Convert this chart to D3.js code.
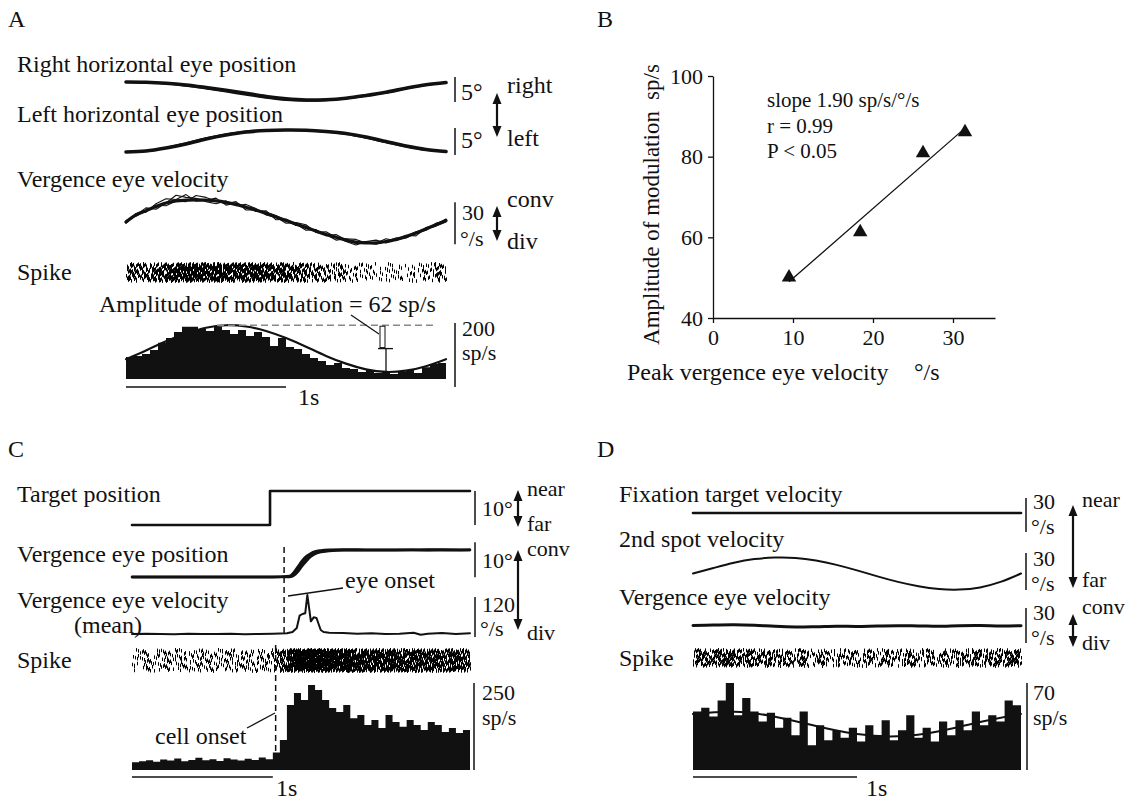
<!DOCTYPE html>
<html><head><meta charset="utf-8">
<script src="https://cdn.jsdelivr.net/npm/d3@7"></script>
<style>
body{margin:0;background:#fff;}
svg text{font-family:"Liberation Serif","Times New Roman",serif;fill:#111;}
</style></head><body>
<svg id="fig" width="1129" height="803" font-family="Liberation Serif"></svg>
<script>
// ================= DATA =================
// Panel A : sinusoidal vergence, 2 s sweep
const eyeStepA = 0.125;                    // s between samples
const rightEyeA  = [1.8,1.75,1.55,1.2,0.7,0.15,-0.45,-1.1,-1.55,-1.8,-1.75,-1.45,-0.9,-0.25,0.55,1.25,1.7];
const rightEyeA2 = [1.75,1.7,1.45,1.0,0.45,-0.15,-0.8,-1.4,-1.85,-2.0,-1.9,-1.55,-1.0,-0.35,0.45,1.15,1.65];
const leftEyeA   = [-2.2,-2.0,-1.4,-0.6,0.4,1.2,1.8,2.1,2.2,2.15,1.9,1.5,0.8,-0.1,-1.0,-1.7,-2.1];
const leftEyeA2  = [-2.15,-1.95,-1.3,-0.4,0.6,1.4,1.95,2.2,2.25,2.1,1.8,1.35,0.6,-0.3,-1.15,-1.8,-2.15];
const vergStepA = 0.0625;
const vergVelA  = [-1,4,7,10,12.5,14,14.5,14.8,14.5,14,13,11.5,9.5,7.5,5,2.5,0,-2.5,-5,-7.5,-10,-12,-14,-15.5,-16,-16,-15,-13.5,-11.5,-9,-6,-3,0];
const vergNoiseA1 = [0,1,-1,2,3,1,4,-1,0,2,-2,1,0,-1,2,-2,1,0,-2,1,-1,2,0,-1,1,2,-1,0,1,-2,1,0,1];
const vergNoiseA2 = [-1,0,2,-2,0,4,2,1,-1,-2,1,-1,2,1,-1,0,-2,1,2,-1,0,-2,1,2,0,-1,0,1,-1,0,-1,1,0];
const vergNoiseA3 = [1,-1,0,1,-2,0,-1,3,2,0,-1,2,-2,0,1,1,0,-1,1,-1,2,0,-1,-2,1,0,2,-1,0,1,0,-1,-1];
const binA = 0.05;
const rateA = [69,72,78,91,113,128,147,163,163,156,150,163,153,141,153,134,147,131,103,128,100,94,78,66,56,44,50,34,31,22,28,19,25,16,22,28,19,37,47,50];
const fitStepA = 0.125;
const fitA = [62,89,118,142,160,168,164,150,128,101,72,48,30,22,26,40,62];
const ampLabelA = "Amplitude of modulation = 62 sp/s";

// Panel B : peak vergence velocity vs amplitude of modulation
const peakVelB = [9.5,18.4,26.25,31.5];
const ampModB  = [50.1,61.3,80.9,86.1];
const yTicksB = [40,60,80,100];
const xTicksB = [0,10,20,30];
const statsB = ["slope 1.90 sp/s/°/s","r = 0.99","P < 0.05"];

// Panel C : step in target depth
const targetT = [0,0.98,0.98,2.4];
const targetV = [0,0,10,10];
const eyePosT  = [0,0.5,1.0,1.12,1.15,1.18,1.21,1.24,1.27,1.30,1.34,1.40,1.5,1.7,2.0,2.2,2.4];
const eyePosC1 = [0,0,0,0.1,0.8,2.3,4.0,5.4,6.4,7.0,7.4,7.6,7.7,7.7,7.7,7.75,7.7];
const eyePosC2 = [0,0,0,0.3,1.4,3.1,4.8,6.0,6.8,7.3,7.6,7.8,7.9,7.8,7.8,7.9,7.8];
const eyePosC3 = [0,0,0,0,0.4,1.6,3.2,4.6,5.8,6.6,7.1,7.4,7.6,7.6,7.7,7.6,7.7];
const eyeVelT = [0,0.1,0.2,0.3,0.4,0.5,0.6,0.7,0.8,0.9,1.0,1.1,1.14,1.17,1.19,1.21,1.23,1.245,1.26,1.27,1.29,1.31,1.325,1.34,1.36,1.4,1.5,1.6,1.7,1.8,1.9,2.0,2.05,2.1,2.2,2.3,2.4];
const eyeVelC = [0,1,0,-1,1,0,0,1,-1,0,1,2,6,18,55,60,62,117,70,38,50,48,30,12,6,4,3,1,2,0,1,4,-2,1,3,0,2];
const binC = 0.05;
const rateC = [22,25,28,24,30,27,33,25,29,35,28,31,26,34,30,27,32,29,36,31,50,86,187,221,201,244,230,201,178,167,187,149,158,129,144,121,158,138,124,144,129,115,138,129,109,121,106,115];
const eyeOnsetC = 1.08, cellOnsetC = 1.02;

// Panel D : second spot moving sinusoidally
const stepD = 0.125;
const fixVelD  = [0,0,0,0,0,0,0,0,0,0,0,0,0,0,0,0,0];
const spotVelD = [0,4.6,9.0,12.0,13.3,13.0,10.8,7.2,2.6,-2.4,-7.0,-10.6,-12.9,-13.4,-11.6,-7.0,0];
const vergVelD = [0.5,0.8,1.0,0.6,-0.3,-0.8,-0.6,-0.2,-0.4,0,0.2,0.1,-0.2,0.3,0.4,0.1,0.3];
const binD = 0.05;
const rateD = [47,50,43,56,70,44,58,47,39,46,34,42,28,47,20,36,24,32,26,34,23,36,28,40,24,32,44,26,34,23,39,28,40,32,47,36,44,39,56,52];
const fitStepD = 0.25;
const fitD = [45,46.9,42.9,35.4,28.9,27.1,31.1,38.6,45.1];

// ================= DRAWING =================
const ink = "#111";
const svg = d3.select("#fig");
const FS = 24, SS = 22;

function T(x,y,s,size=FS,anchor="start"){
  return svg.append("text").attr("x",x).attr("y",y).attr("font-size",size)
    .attr("font-family","Liberation Serif").attr("text-anchor",anchor).text(s);
}
function L(x1,y1,x2,y2,w=1.5,dash=null,col=ink){
  const l = svg.append("line").attr("x1",x1).attr("y1",y1).attr("x2",x2).attr("y2",y2)
    .attr("stroke",col).attr("stroke-width",w);
  if(dash) l.attr("stroke-dasharray",dash);
  return l;
}
function dArrow(x,y1,y2){
  L(x,y1+8,x,y2-8,2.2);
  svg.append("path").attr("d",`M${x},${y1}L${x-4.5},${y1+11}L${x+4.5},${y1+11}Z`).attr("fill",ink);
  svg.append("path").attr("d",`M${x},${y2}L${x-4.5},${y2-11}L${x+4.5},${y2-11}Z`).attr("fill",ink);
}
function trace(vals, tOf, x, y, w, curve=d3.curveLinear){
  const line = d3.line().x((d,i)=>x(tOf(i))).y(d=>y(d)).curve(curve);
  svg.append("path").attr("d",line(vals)).attr("fill","none").attr("stroke",ink)
     .attr("stroke-width",w).attr("stroke-linejoin","round").attr("stroke-linecap","round");
}
function histo(rates, bin, x, y){
  const pts = rates.map((r,i)=>[i*bin,r]);
  pts.push([rates.length*bin, rates[rates.length-1]]);
  const area = d3.area().x(d=>x(d[0])).y0(y(0)).y1(d=>y(d[1])).curve(d3.curveStepAfter);
  svg.append("path").attr("d",area(pts)).attr("fill",ink);
}
const frac = v => v - Math.floor(v);
function raster(rates, bin, nTr, x, yTop, yBot, tick=3.5){
  // spike ticks placed deterministically from the binned firing rate, one pass per trial
  const span = yBot-yTop-tick;
  let d = "";
  for(let k=0;k<nTr;k++){
    let acc = frac(k*0.6180339887+0.137), n=0;
    rates.forEach((r,i)=>{
      acc += r*bin;
      while(acc>=1){
        acc -= 1; n++;
        const u = frac(n*0.7548776662 + k*0.5698402910);
        const xx = Math.round(x((i+u)*bin))+0.5;
        const y0 = yTop + frac(n*0.4142135+k*0.3183099)*span;
        d += `M${xx},${y0.toFixed(1)}v${tick}`;
      }
    });
  }
  svg.append("path").attr("d",d).attr("stroke","#000").attr("stroke-width",1).attr("fill","none");
}

// ---------- Panel A ----------
T(8,27,"A",24);
const xA = d3.scaleLinear([0,2],[126,446]);
const yRE = d3.scaleLinear([0,5],[91,66]);
const yLE = d3.scaleLinear([0,5],[141,116]);
const yVA = d3.scaleLinear([0,30],[220.5,178.5]);
const yHA = d3.scaleLinear([0,200],[379,315]);
T(17,72,"Right horizontal eye position");
T(17,122,"Left horizontal eye position");
T(17,187,"Vergence eye velocity");
T(17,280,"Spike");
const cv = d3.curveCatmullRom;
trace(rightEyeA2,i=>i*eyeStepA,xA,yRE,1.6,cv);
trace(rightEyeA,i=>i*eyeStepA,xA,yRE,3.6,cv);
trace(leftEyeA2,i=>i*eyeStepA,xA,yLE,1.6,cv);
trace(leftEyeA,i=>i*eyeStepA,xA,yLE,3.6,cv);
[vergNoiseA1,vergNoiseA2,vergNoiseA3].forEach(nz=>{
  trace(vergVelA.map((v,i)=>v+nz[i]),i=>i*vergStepA,xA,yVA,1.1);
});
trace(vergVelA,i=>i*vergStepA,xA,yVA,3.2,cv);
// scale bars A
L(455,yRE(-2.2),455,yRE(2.8),1.5); T(461,100,"5°");
L(455,yLE(-2.8),455,yLE(2.6),1.5); T(461,148,"5°");
dArrow(497,93,137); T(507,93,"right"); T(507,146,"left");
L(455,yVA(-17),455,yVA(13),1.5); T(462,220,"30",SS); T(460,246,"°/s",SS);
dArrow(497,206,241); T(507,207,"conv"); T(507,249,"div");
// raster + histogram A
raster(rateA,binA,8,xA,262,283);
histo(rateA,binA,xA,yHA);
trace(fitA,i=>i*fitStepA,xA,yHA,2.2,d3.curveNatural);
const peakA = d3.max(fitA), meanA = d3.mean(fitA.slice(0,16));
L(217,yHA(peakA),437,yHA(peakA),1.5,"7,4","#888");
T(99,312,ampLabelA);
L(351,315,379,334,1.2);
svg.append("rect").attr("x",380).attr("y",yHA(peakA)+1).attr("width",5).attr("height",yHA(meanA)-yHA(peakA)-2)
  .attr("fill","none").attr("stroke",ink).attr("stroke-width",1);
L(378,yHA(meanA),393,yHA(meanA),1.3);
L(386,yHA(meanA),386,yHA(0)-1,1.3);
L(455,yHA(0)+8,455,yHA(200)+8,1.5); T(462,336,"200",SS); T(462,360,"sp/s",SS);
L(xA(0),387,xA(1),387,1.5); T(298,405,"1s");

// ---------- Panel B ----------
T(597,27,"B",24);
const xB = d3.scaleLinear([0,35.25],[713,995]);
const yB = d3.scaleLinear([40,100],[318,76]);
const gy = svg.append("g").attr("transform","translate(713,0)")
  .call(d3.axisLeft(yB).tickValues(yTicksB).tickSize(5).tickSizeOuter(0).tickPadding(5));
const gx = svg.append("g").attr("transform","translate(0,318)")
  .call(d3.axisBottom(xB).tickValues(xTicksB).tickSize(5).tickSizeOuter(0).tickPadding(6));
[gy,gx].forEach(g=>{
  g.selectAll("text").attr("font-size",22).attr("font-family","Liberation Serif").attr("fill",ink);
  g.selectAll("path,line").attr("stroke",ink).attr("stroke-width",1.3);
});
svg.append("text").attr("transform","translate(659,228) rotate(-90)").attr("text-anchor","middle")
  .attr("font-size",23).attr("font-family","Liberation Serif").text("Amplitude of modulation");
svg.append("text").attr("transform","translate(659,82) rotate(-90)").attr("text-anchor","middle")
  .attr("font-size",23).attr("font-family","Liberation Serif").text("sp/s");
T(627,380,"Peak vergence eye velocity");
T(914,380,"°/s");
statsB.forEach((s,i)=>T(767,107+i*25.5,s,21));
// regression line
const mx = d3.mean(peakVelB), my = d3.mean(ampModB);
const slope = d3.sum(peakVelB.map((v,i)=>(v-mx)*(ampModB[i]-my)))/d3.sum(peakVelB.map(v=>(v-mx)**2));
const x0 = d3.min(peakVelB), x1 = d3.max(peakVelB);
L(xB(x0),yB(my+slope*(x0-mx)),xB(x1),yB(my+slope*(x1-mx)),1.3);
svg.selectAll("path.tri").data(peakVelB).enter().append("path").attr("class","tri")
  .attr("transform",(d,i)=>`translate(${xB(d)},${yB(ampModB[i])})`)
  .attr("d",d3.symbol(d3.symbolTriangle,90)).attr("fill",ink);

// ---------- Panel C ----------
T(8,457,"C",24);
const xC = d3.scaleLinear([0,2.4],[132,470]);
const yTC = d3.scaleLinear([0,10],[525,491]);
const yEP = d3.scaleLinear([0,10],[577,542]);
const yEV = d3.scaleLinear([0,120],[634,594]);
const yHC = d3.scaleLinear([0,250],[770,683]);
T(17,502,"Target position");
T(17,562,"Vergence eye position");
T(17,608,"Vergence eye velocity");
T(74,633,"(mean)");
T(17,668,"Spike");
trace(targetV,i=>targetT[i],xC,yTC,2.6);
[eyePosC3,eyePosC2,eyePosC1].forEach(v=>trace(v,i=>eyePosT[i],xC,yEP,2.4,d3.curveMonotoneX));
trace(eyeVelC,i=>eyeVelT[i],xC,yEV,2.0);
L(xC(eyeOnsetC),547,xC(eyeOnsetC),637,1.5,"6,4");
L(xC(cellOnsetC),645,xC(cellOnsetC),766,1.5,"6,4");
T(345,588,"eye onset");
L(288,596,343,588,1.3);
L(475,yTC(0),475,yTC(10),1.5); T(482,516,"10°",SS);
dArrow(518,490,527); T(527,496,"near",SS); T(527,531,"far",SS);
L(475,yEP(-0.1),475,yEP(9.9),1.5); T(482,568,"10°",SS);
L(475,597,475,637,1.5); T(482,612,"120",SS); T(480,636,"°/s",SS);
dArrow(518,550,630); T(527,556,"conv",SS); T(527,640,"div",SS);
raster(rateC,binC,10,xC,648,673);
histo(rateC,binC,xC,yHC);
T(155,744,"cell onset");
L(247,728,275,713,1.3);
L(474,yHC(0),474,yHC(250),1.5); T(482,700,"250",SS); T(482,725,"sp/s",SS);
L(xC(0),777,xC(1),777,1.5); T(276,796,"1s");

// ---------- Panel D ----------
T(597,457,"D",24);
const xD = d3.scaleLinear([0,2],[693,1021]);
const yFD = d3.scaleLinear([0,30],[513,479]);
const ySD = d3.scaleLinear([0,30],[573.5,537.5]);
const yVD = d3.scaleLinear([0,30],[626,591]);
const yHD = d3.scaleLinear([0,70],[770,683]);
T(619,502,"Fixation target velocity");
T(619,547,"2nd spot velocity");
T(619,605,"Vergence eye velocity");
T(619,666,"Spike");
trace(fixVelD,i=>i*stepD,xD,yFD,2.6);
trace(spotVelD,i=>i*stepD,xD,ySD,2.0,d3.curveNatural);
trace(vergVelD,i=>i*stepD,xD,yVD,3.0,cv);
L(1026,498,1026,532,1.5); T(1033,509,"30",SS); T(1031,534,"°/s",SS);
L(1026,553,1026,590,1.5); T(1033,566,"30",SS); T(1031,591,"°/s",SS);
dArrow(1073,505,588); T(1082,507,"near",SS); T(1082,587,"far",SS);
L(1026,608,1026,643,1.5); T(1033,620,"30",SS); T(1031,645,"°/s",SS);
dArrow(1073,614,647); T(1082,614,"conv",SS); T(1082,650,"div",SS);
raster(rateD,binD,12,xD,648,668);
histo(rateD,binD,xD,yHD);
trace(fitD,i=>i*fitStepD,xD,yHD,2.0,d3.curveNatural);
L(1027,yHD(0),1027,yHD(70),1.5); T(1033,700,"70",SS); T(1033,725,"sp/s",SS);
L(xD(0),777,xD(1),777,1.5); T(866,796,"1s");
</script></body></html>
